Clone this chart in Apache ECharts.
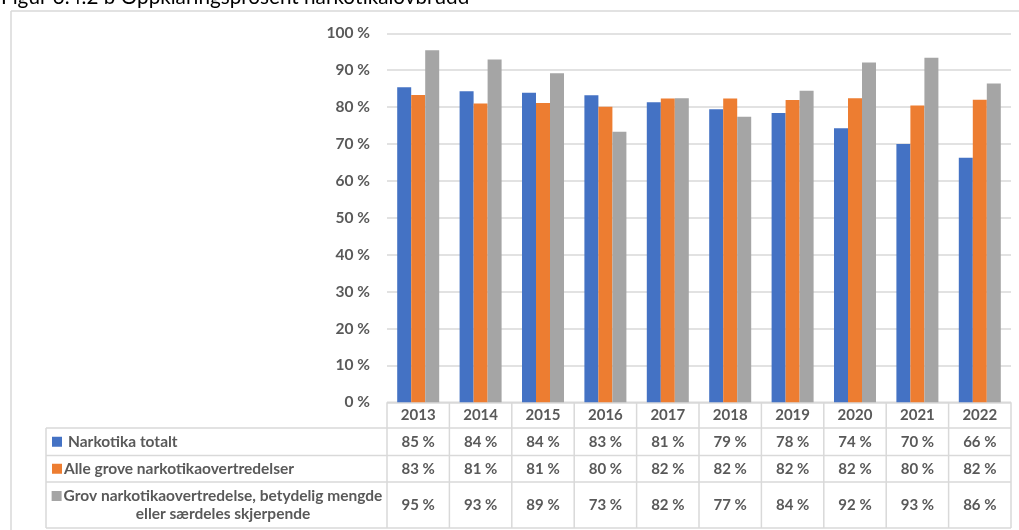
<!DOCTYPE html>
<html>
<head>
<meta charset="utf-8">
<script src="https://cdn.jsdelivr.net/npm/echarts@6/dist/echarts.min.js"></script>
<style>
html,body{margin:0;padding:0;background:#fff;}
#c{width:1019px;height:530px;}
</style>
</head>
<body>
<div id="c"></div>
<script>
var titleText = 'Figur 3.4.2 b Oppklaringsprosent narkotikalovbrudd';
var years = ['2013','2014','2015','2016','2017','2018','2019','2020','2021','2022'];
var seriesNames = ['Narkotika totalt', 'Alle grove narkotikaovertredelser', 'Grov narkotikaovertredelse, betydelig mengde\neller særdeles skjerpende'];
var narkotikaTotalt = [85.4, 84.3, 83.9, 83.2, 81.3, 79.4, 78.4, 74.3, 70.0, 66.3];
var alleGrove = [83.3, 81.0, 81.1, 80.1, 82.3, 82.3, 81.9, 82.4, 80.4, 82.0];
var grovBetydelig = [95.4, 92.9, 89.2, 73.3, 82.4, 77.4, 84.4, 92.1, 93.4, 86.4];
var colors = ['#4472C4', '#ED7D31', '#A5A5A5'];
var yTicks = [0, 10, 20, 30, 40, 50, 60, 70, 80, 90, 100];

var seriesData = [narkotikaTotalt, alleGrove, grovBetydelig];
var FONT = 'Lato';
var FS = 15.5;
var TXT = '#595959';
var LINE = '#D9D9D9';

var chart = echarts.init(document.getElementById('c'), null, {renderer: 'canvas'});

var option = {
  animation: false,
  backgroundColor: '#fff',
  grid: {left: 387, right: 8, top: 33.3, bottom: 127.7, containLabel: false},
  xAxis: {
    type: 'category',
    data: years,
    axisLine: {show: false},
    axisTick: {show: false},
    axisLabel: {color: TXT, fontFamily: FONT, fontWeight: 'bold', fontSize: 15, margin: 5}
  },
  yAxis: {
    type: 'value',
    min: yTicks[0], max: yTicks[yTicks.length - 1], interval: 10,
    axisLine: {show: false},
    axisTick: {show: false},
    axisLabel: {color: TXT, fontFamily: FONT, fontWeight: 'bold', fontSize: FS, margin: 17,
      formatter: function (v) { return v + ' %'; }},
    splitLine: {lineStyle: {color: LINE, width: 1.5}}
  },
  series: seriesData.map(function (d, i) {
    return {
      type: 'bar', name: seriesNames[i], data: d,
      barWidth: 14, barGap: '0%',
      itemStyle: {color: colors[i]}
    };
  })
};
chart.setOption(option);

function build() {
  var els = [];
  var c0 = chart.convertToPixel({xAxisIndex: 0}, years[0]);
  var c1 = chart.convertToPixel({xAxisIndex: 0}, years[1]);
  var band = c1 - c0;
  var tableLeft = c0 - band / 2;
  var tableRight = tableLeft + band * years.length;
  var yTop = chart.convertToPixel({yAxisIndex: 0}, 0);
  var rowEdges = [yTop, 428, 455.5, 482, 528];
  var labelLeft = 46;
  var ls = {stroke: LINE, lineWidth: 1.5};

  els.push({type: 'line', shape: {x1: 11, y1: 11, x2: 1019, y2: 11}, style: {stroke: LINE, lineWidth: 1.5}, silent: true});
  els.push({type: 'line', shape: {x1: 11, y1: 11, x2: 11, y2: 530}, style: {stroke: LINE, lineWidth: 1.5}, silent: true});

  els.push({type: 'text', x: 1, y: -3, style: {text: titleText, fontFamily: FONT, fontSize: 20.7, fill: '#000', verticalAlign: 'middle', align: 'left'}, silent: true});

  els.push({type: 'line', shape: {x1: tableLeft, y1: rowEdges[0], x2: tableRight, y2: rowEdges[0]}, style: ls, silent: true});
  for (var r = 1; r < rowEdges.length; r++) {
    els.push({type: 'line', shape: {x1: labelLeft, y1: rowEdges[r], x2: tableRight, y2: rowEdges[r]}, style: ls, silent: true});
  }
  els.push({type: 'line', shape: {x1: labelLeft, y1: rowEdges[1], x2: labelLeft, y2: rowEdges[4]}, style: ls, silent: true});
  for (var k = 0; k <= years.length; k++) {
    var x = tableLeft + band * k;
    els.push({type: 'line', shape: {x1: x, y1: rowEdges[0], x2: x, y2: rowEdges[4]}, style: ls, silent: true});
  }
  for (var s = 0; s < seriesData.length; s++) {
    var cy = (rowEdges[s + 1] + rowEdges[s + 2]) / 2;
    for (var j = 0; j < years.length; j++) {
      var cx = chart.convertToPixel({xAxisIndex: 0}, years[j]);
      els.push({type: 'text', x: cx, y: cy, style: {text: Math.round(seriesData[s][j]) + ' %', fontFamily: FONT, fontWeight: 'bold', fontSize: 15, fill: TXT, align: 'center', verticalAlign: 'middle'}, silent: true});
    }
  }
  var ctx = document.createElement('canvas').getContext('2d');
  ctx.font = 'bold ' + FS + 'px ' + FONT;
  var cy1 = (rowEdges[1] + rowEdges[2]) / 2;
  els.push({type: 'rect', shape: {x: 52, y: cy1 - 5, width: 10, height: 10}, style: {fill: colors[0]}, silent: true});
  els.push({type: 'text', x: 68, y: cy1, style: {text: seriesNames[0], fontFamily: FONT, fontWeight: 'bold', fontSize: FS, fill: TXT, align: 'left', verticalAlign: 'middle'}, silent: true});
  var cy2 = (rowEdges[2] + rowEdges[3]) / 2;
  els.push({type: 'rect', shape: {x: 52, y: cy2 - 5, width: 10, height: 10}, style: {fill: colors[1]}, silent: true});
  els.push({type: 'text', x: 64, y: cy2, style: {text: seriesNames[1], fontFamily: FONT, fontWeight: 'bold', fontSize: FS, fill: TXT, align: 'left', verticalAlign: 'middle'}, silent: true});
  var cy3 = (rowEdges[3] + rowEdges[4]) / 2;
  var lines = seriesNames[2].split('\n');
  var w1 = ctx.measureText(lines[0]).width;
  var centre = 223;
  var lh = 18;
  els.push({type: 'rect', shape: {x: centre - w1 / 2 - 12, y: cy3 - lh / 2 - 5, width: 10, height: 10}, style: {fill: colors[2]}, silent: true});
  els.push({type: 'text', x: centre, y: cy3 - lh / 2, style: {text: lines[0], fontFamily: FONT, fontWeight: 'bold', fontSize: FS, fill: TXT, align: 'center', verticalAlign: 'middle'}, silent: true});
  els.push({type: 'text', x: centre, y: cy3 + lh / 2, style: {text: lines[1], fontFamily: FONT, fontWeight: 'bold', fontSize: FS, fill: TXT, align: 'center', verticalAlign: 'middle'}, silent: true});

  chart.setOption({graphic: {elements: els}});
}
build();
</script>
</body>
</html>
